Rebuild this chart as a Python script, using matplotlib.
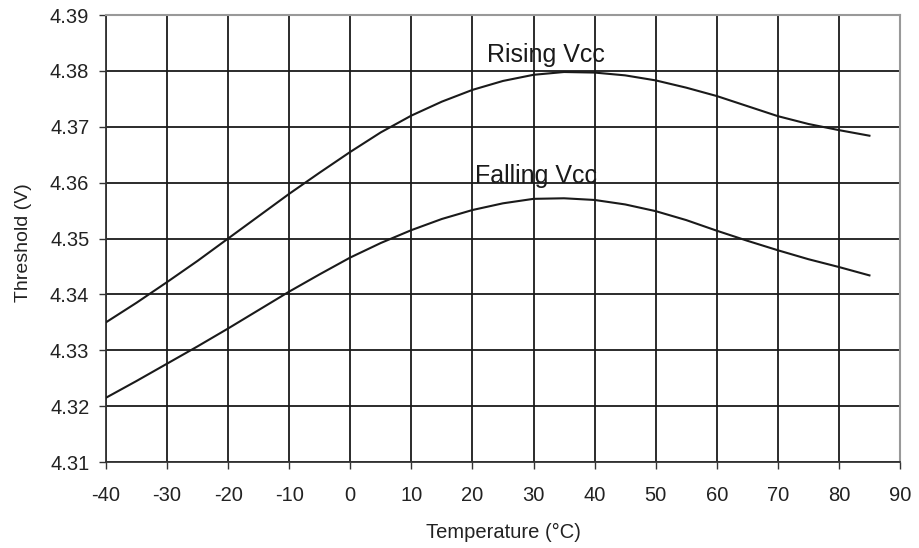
import matplotlib.pyplot as plt

plt.rcParams['font.family'] = ['Liberation Sans', 'DejaVu Sans']
plt.rcParams['axes.unicode_minus'] = False

temps = [-40, -35, -30, -25, -20, -15, -10, -5, 0, 5, 10, 15, 20, 25, 30,
         35, 40, 45, 50, 55, 60, 65, 70, 75, 80, 85]
rising = [4.3350, 4.3385, 4.3422, 4.3460, 4.3500, 4.3540, 4.3580, 4.3618,
          4.3655, 4.3690, 4.3720, 4.3745, 4.3766, 4.3782, 4.3793, 4.3798,
          4.3797, 4.3792, 4.3783, 4.3770, 4.3755, 4.3737, 4.3719, 4.3705,
          4.3694, 4.3684]
falling = [4.3215, 4.3245, 4.3276, 4.3307, 4.3339, 4.3372, 4.3405, 4.3436,
           4.3466, 4.3492, 4.3515, 4.3535, 4.3551, 4.3563, 4.3571, 4.3572,
           4.3569, 4.3561, 4.3549, 4.3533, 4.3514, 4.3496, 4.3479, 4.3463,
           4.3449, 4.3434]
xticks = list(range(-40, 91, 10))
yticks = [4.31, 4.32, 4.33, 4.34, 4.35, 4.36, 4.37, 4.38, 4.39]

fig = plt.figure(figsize=(9.19, 5.48), dpi=100)
ax = fig.add_axes([0.1153, 0.1569, 0.8640, 0.8157])

ax.plot(temps, rising, color='#1a1a1a', lw=1.5, zorder=3)
ax.plot(temps, falling, color='#1a1a1a', lw=1.5, zorder=3)

# curve labels
ax.text(32.0, 4.3816, 'Rising Vcc', fontsize=18, ha='center', va='baseline', color='#1a1a1a')
ax.text(30.4, 4.3599, 'Falling Vcc', fontsize=18, ha='center', va='baseline', color='#1a1a1a')

ax.set_xlim(-40, 90)
ax.set_ylim(4.31, 4.39)
ax.set_xticks(xticks)
ax.set_yticks(yticks)
ax.set_yticklabels([f'{v:.2f}' for v in yticks])
ax.grid(True, color='#1a1a1a', lw=1.3)
ax.set_axisbelow(True)

for s in ['top', 'right']:
    ax.spines[s].set_color('#999999')
    ax.spines[s].set_linewidth(1.5)
for s in ['left', 'bottom']:
    ax.spines[s].set_color('#333333')
    ax.spines[s].set_linewidth(1.3)

ax.tick_params(direction='out', length=5, width=1, color='#333333',
               labelsize=14.5, labelcolor='#222222')
ax.tick_params(axis='x', pad=12)
ax.tick_params(axis='y', pad=7)

ax.set_xlabel('Temperature (°C)', fontsize=14.5, color='#222222', va='center')
ax.set_ylabel('Threshold (V)', fontsize=14, color='#222222', va='center')
ax.xaxis.set_label_coords(0.5, -0.1566)
ax.yaxis.set_label_coords(-0.1033, 0.49)

fig.savefig('out.png', dpi=100)
